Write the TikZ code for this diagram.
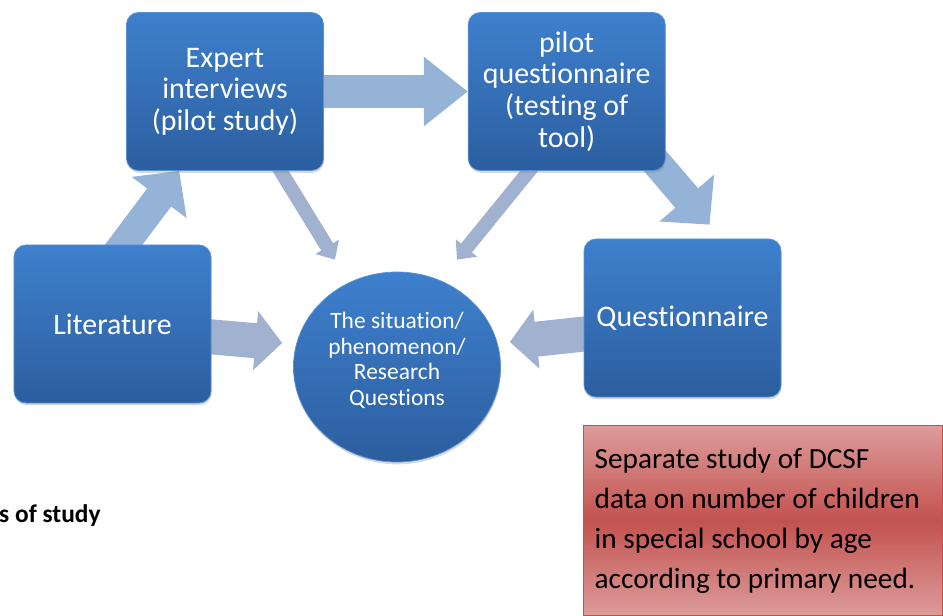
\documentclass[tikz,border=0pt]{standalone}
\usepackage{fontspec}
\setmainfont{Carlito}[Ligatures=NoCommon]
\usetikzlibrary{arrows.meta,calc,positioning,shapes.geometric,shadows,backgrounds}
\definecolor{boxtop}{HTML}{3E80CD}
\definecolor{boxbot}{HTML}{2C5E9F}
\definecolor{boxedge}{HTML}{5A92D6}
\definecolor{flatblue}{HTML}{95B3D7}
\definecolor{steel}{HTML}{A0B2D0}
\definecolor{redlite}{HTML}{DC9C9A}
\definecolor{reddark}{HTML}{C3524F}
\definecolor{redline}{HTML}{C0504D}

\begin{document}
\begin{tikzpicture}[x=0.03cm,y=-0.03cm,
    stage/.style={rounded corners=0.36cm,top color=boxtop,bottom color=boxbot,draw=boxedge,line width=0.6pt,minimum width=5.91cm,minimum height=4.74cm,align=center,text=white,font=\fontsize{25.5}{27}\selectfont,drop shadow={opacity=0.3,shadow xshift=0.5pt,shadow yshift=-2pt}},
    core/.style={ellipse,inner sep=0pt,top color=boxtop,bottom color=boxbot,draw=boxedge,line width=0.6pt,minimum width=6.21cm,minimum height=5.7cm,align=center,text=white,font=\fontsize{20}{22}\selectfont,drop shadow={opacity=0.3,shadow xshift=0.5pt,shadow yshift=-2pt}},
    sidenote/.style={rectangle,top color=redlite,bottom color=redlite,middle color=reddark,draw=redline,line width=1.2pt,text width=10.11cm,align=flush left,inner xsep=0.33cm,minimum height=5.7cm,font=\fontsize{25}{34}\selectfont},
    flow/.style={flatblue,line width=0.9cm,-{Triangle[width=2cm,length=1cm]}},
    feed/.style={steel,line width=1.05cm,-{Triangle[width=1.74cm,length=0.8cm]}},
    feedthin/.style={steel,line width=0.42cm,-{Triangle[width=0.8cm,length=0.45cm]}}]
  \useasboundingbox (0,0) rectangle (943,616);
  \node[stage] (exp) at (225,91.5) {Expert\\interviews\\(pilot study)};
  \node[stage,right=4.32cm of exp] (pilot) {pilot\\questionnaire\\(testing of\\tool)};
  \node[stage] (lit) at (112.5,324) {Literature};
  \node[stage] (quest) at (682.5,318) {Questionnaire};
  \node[core] (rq) at (397,367) {The situation/\\phenomenon/\\Research\\Questions\\[-8pt]\mbox{}};
  \node[sidenote,anchor=north west] (dcsf) at (583,425) {Separate study of DCSF\\data on number of children\\in special school by age\\according to primary need.};
  \node[anchor=base west,inner sep=0pt,font=\fontsize{21.7}{24}\selectfont\bfseries] (cap) at (-1,522) {s of study};
  \begin{scope}[on background layer]
    \draw[flow] ($(lit.north)+(0,15)$) -- (exp.240);
    \draw[flow,line width=0.96cm,-{Triangle[width=2cm,length=1.32cm]}] (exp.east) -- (pilot.west);
    \draw[flow,-{Triangle[width=2.1cm,length=1.05cm]}] ($(pilot.south east)+(-15,-15)$) -- ($(quest.north)+(27,-14)$);
    \draw[feed] ($(lit.east)+(-10,12)$) -- ($(rq.west)+(-11,-24)$);
    \draw[feed] ($(quest.west)+(10,15)$) -- ($(rq.east)+(9,-25)$);
    \draw[feedthin] ($(exp.305)+(-5,-8)$) -- ($(rq.north)+(-62,-12)$);
    \draw[feedthin] ($(pilot.245)+(6,-8)$) -- ($(rq.north)+(60,-12)$);
  \end{scope}
\end{tikzpicture}
\end{document}
